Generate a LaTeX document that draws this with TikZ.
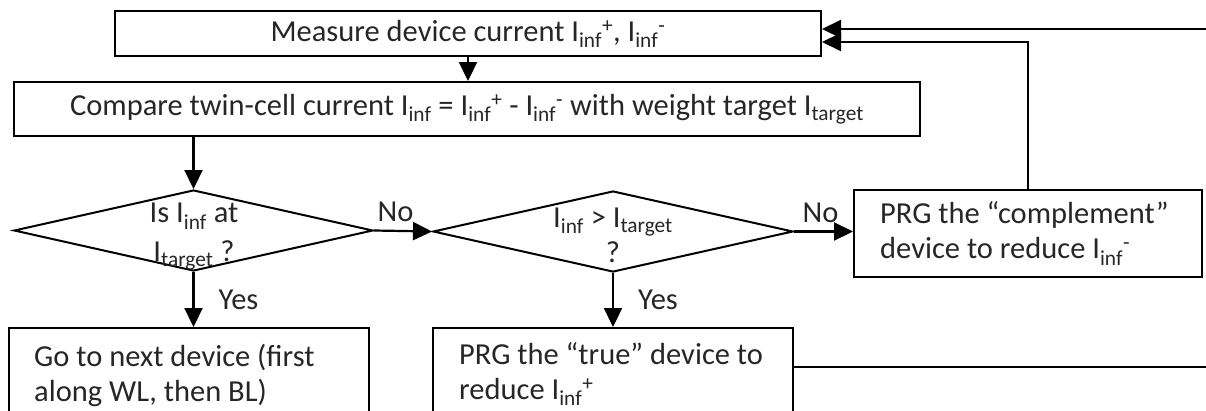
\documentclass[tikz,border=0pt]{standalone}
\usepackage{fontspec}
\setmainfont{Carlito}
\usetikzlibrary{arrows.meta,shapes.geometric}
\definecolor{ink}{RGB}{38,38,38}
\newcommand\Iinf{I\textsubscript{inf}}
\newcommand\Itgt{I\textsubscript{target}}
\begin{document}
\begin{tikzpicture}[x=1pt,y=-1pt,
  every node/.style={font=\fontsize{30.5}{35}\selectfont, text=ink},
  box/.style={draw=black, line width=2pt, rectangle, inner sep=0pt},
  decision/.style={draw=black, line width=2pt, diamond, inner sep=0pt},
  flow/.style={draw=black, line width=2.2pt, -{Triangle[length=19pt,width=18pt]}},
  wire/.style={draw=black, line width=2.2pt},
  lbl/.style={inner sep=0pt}]
\useasboundingbox (0,0) rectangle (1206,410);
\clip (0,0) rectangle (1206,410);

% process boxes
\node[box, minimum width=706pt, minimum height=45pt] (measure) at (468,33.5)
  {Measure device current \Iinf\textsuperscript{+}, \Iinf\textsuperscript{-}};
\node[box, minimum width=906pt, minimum height=54pt] (compare) at (467,109)
  {Compare twin-cell current \Iinf{} = \Iinf\textsuperscript{+} - \Iinf\textsuperscript{-} with weight target \Itgt};

% decisions
\node[decision, minimum width=359pt, minimum height=81pt] (d1) at (193.5,230.5) {};
\node[align=center] (d1t) at (194,237) {Is \Iinf{} at\\[4pt]\Itgt{} ?};
\node[decision, minimum width=360pt, minimum height=81pt] (d2) at (613,231.5) {};
\node[align=center] (d2t) at (613,235) {\Iinf{} > \Itgt\\?};

% actions
\node[box, minimum width=348pt, minimum height=87pt] (comp) at (1028,233.5) {};
\node[anchor=west, align=left, inner sep=0pt] (compt) at ([xshift=27pt]comp.west)
  {PRG the “complement”\\device to reduce \Iinf\textsuperscript{-}};
\node[box, minimum width=360pt, minimum height=130pt] (go) at (189,393) {};
\node[anchor=north west, align=left, inner sep=0pt] (got) at ([xshift=26pt,yshift=-17pt]go.north west)
  {Go to next device (first\\along WL, then BL)};
\node[box, minimum width=360pt, minimum height=130pt] (true) at (613,393) {};
\node[anchor=north west, align=left, inner sep=0pt] (truet) at ([xshift=27pt,yshift=-15pt]true.north west)
  {PRG the “true” device to\\reduce \Iinf\textsuperscript{+}};

% loose ends of the loop
\coordinate (inR) at (1206,29);
\coordinate (exitR) at (1206,367);

% connectors
\draw[flow] (measure.south) -- (measure.south |- compare.north);
\draw[flow] (d1.north |- compare.south) -- (d1.north);
\draw[flow] (d1.east) -- node[lbl, pos=0.37, above=8pt] {No} (d2.west);
\draw[flow] (d2.east) -- node[lbl, pos=0.45, above=8pt] {No} (d2.east -| comp.west);
\draw[flow] (d1.south) -- node[lbl, right=24pt] {Yes} (d1.south |- go.north);
\draw[flow] (d2.south) -- node[lbl, right=24pt] {Yes} (d2.south |- true.north);
\draw[flow] (comp.north) |- ([yshift=-8.5pt]measure.east);
\draw[flow] (inR) -- (inR -| measure.east);
\draw[wire] (true.east |- exitR) -- (exitR);
\end{tikzpicture}
\end{document}
